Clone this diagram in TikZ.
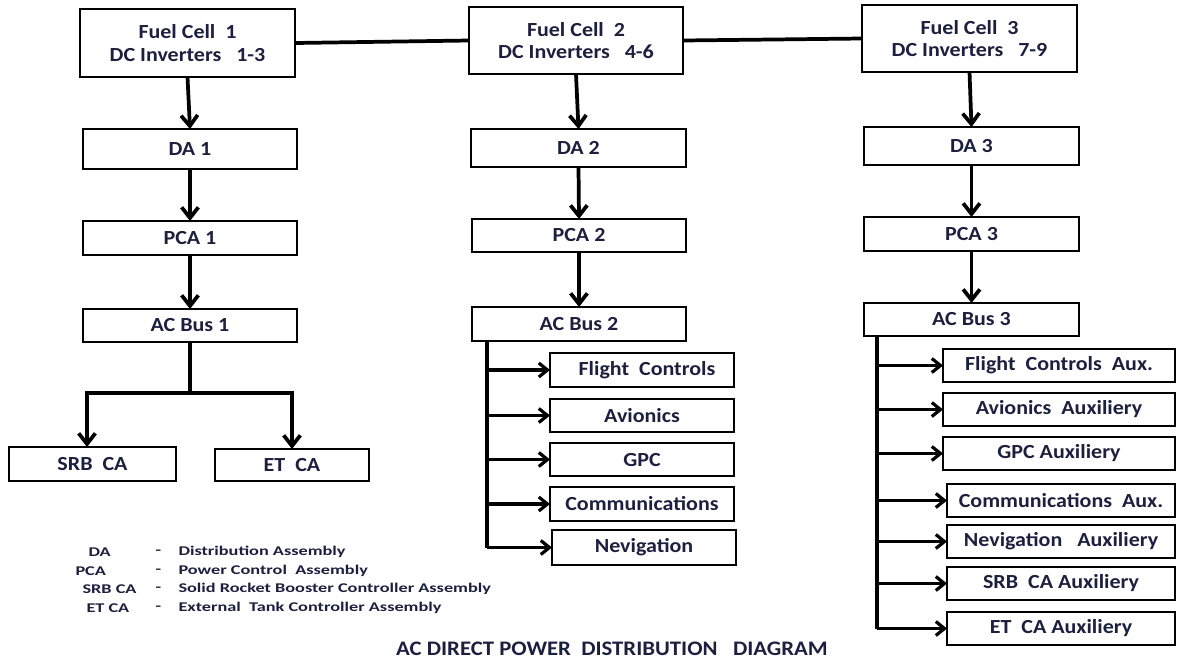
\documentclass[tikz,border=0pt]{standalone}
\usepackage{fontspec}
\setmainfont{Carlito}[FakeStretch=1.1]
\newfontfamily\legendfont{Carlito}[FakeStretch=1.37]
\usetikzlibrary{arrows.meta}
\definecolor{inkblue}{RGB}{28,32,62}

\tikzset{every picture/.style={line width=0.75pt}}
\tikzset{
  blk/.style={draw, line width=1.5pt, inner sep=0pt, outer sep=0pt, align=center,
    text=inkblue, font=\fontsize{15}{17}\selectfont\bfseries},
  sz/.style 2 args={minimum width=#1*0.75pt, minimum height=#2*0.75pt},
  bar/.style={line width=2.8pt},
  feed/.style={line width=2.8pt, -{Straight Barb[length=8pt,width=12.5pt]}},
  tap/.style={line width=2.4pt, -{Straight Barb[length=6.5pt,width=10.5pt]}},
  leg/.style={anchor=west, inner sep=0pt, text=inkblue,
    font=\legendfont\fontsize{10}{11}\selectfont\bfseries},
}

\begin{document}
\begin{tikzpicture}[x=0.75pt,y=0.75pt,yscale=-1,xscale=1]
\useasboundingbox (0,0) rectangle (1177,662);

% Fuel cells
\node[blk,sz={215}{68}] (fc1) at (187.5,43) {Fuel Cell\ \ 1\\DC Inverters\ \ \ 1-3};
\node[blk,sz={214}{67}] (fc2) at (576,40.5) {Fuel Cell\ \ 2\\DC Inverters\ \ \ 4-6};
\node[blk,sz={215}{67}] (fc3) at (969.5,38.5) {Fuel Cell\ \ 3\\DC Inverters\ \ \ 7-9};

% DA
\node[blk,sz={214}{40}] (da1) at (190,149) {DA 1};
\node[blk,sz={215}{38}] (da2) at (578.5,148) {DA 2};
\node[blk,sz={215}{38}] (da3) at (971.5,146) {DA 3};

% PCA
\node[blk,sz={214}{34}] (pca1) at (190,238) {PCA 1};
\node[blk,sz={214}{33}] (pca2) at (579,235.5) {PCA 2};
\node[blk,sz={215}{34}] (pca3) at (971.5,234) {PCA 3};

% AC buses
\node[blk,sz={214}{33}] (ac1) at (190,325.5) {AC Bus 1};
\node[blk,sz={214}{34}] (ac2) at (579,324) {AC Bus 2};
\node[blk,sz={215}{33}] (ac3) at (971.5,319.5) {AC Bus 3};

% Bus 1 loads
\node[blk,sz={167}{34}] (srb1) at (92.5,464) {SRB\ \ CA};
\node[blk,sz={154}{32}] (et1) at (292,465) {ET\ \ CA};

% Bus 2 loads
\node[blk,sz={184}{34}] (fl2) at (642,370) {\ \ Flight\ \ Controls};
\node[blk,sz={184}{33}] (av2) at (642,415.5) {Avionics};
\node[blk,sz={184}{33}] (gpc2) at (642,459.5) {GPC};
\node[blk,sz={184}{34}] (com2) at (642,504) {Communications};
\node[blk,sz={184}{35}] (nav2) at (644,547.5) {Nevigation};

% Bus 3 loads
\node[blk,sz={232}{33}] (fl3) at (1059,365.5) {Flight\ \ Controls\ \ Aux.};
\node[blk,sz={232}{33}] (av3) at (1059,409.5) {Avionics\ \ Auxiliery};
\node[blk,sz={232}{33}] (gpc3) at (1059,453.5) {GPC Auxiliery};
\node[blk,sz={228}{33}] (com3) at (1061,500.5) {Communications\ \ Aux.};
\node[blk,sz={228}{33}] (nav3) at (1061,541.5) {Nevigation\ \ \ Auxiliery};
\node[blk,sz={228}{33}] (srb3) at (1061,583.5) {SRB\ \ CA Auxiliery};
\node[blk,sz={228}{33}] (et3) at (1061,628.5) {ET\ \ CA Auxiliery};

%Straight Lines
\draw[bar] (fc1.east) -- (fc2.west);
\draw[bar] (fc2.east) -- (fc3.west);

\draw[feed] (fc1.south) -- (da1.north);
\draw[feed] (da1.south) -- (pca1.north);
\draw[feed] (pca1.south) -- (ac1.north);
\draw[feed] (fc2.south) -- (da2.north);
\draw[feed] (da2.south) -- (pca2.north);
\draw[feed] (pca2.south) -- (ac2.north);
\draw[feed] (fc3.south) -- (da3.north);
\draw[feed] (da3.south) -- (pca3.north);
\draw[feed] (pca3.south) -- (ac3.north);

%Straight Lines
\coordinate (bl1) at (87,393);
\coordinate (br1) at (292,393);
\draw[bar] (ac1.south) -- (ac1.south |- bl1);
\draw[bar, line cap=rect] (bl1) -- (br1);
\draw[feed] (bl1) -- (bl1 |- srb1.north);
\draw[feed] (br1) -- (br1 |- et1.north);

%Straight Lines
\coordinate (t2) at (487,341);
\draw[bar] (t2) -- (t2 |- nav2.west);
\draw[tap] (t2 |- fl2.west) -- (fl2.west);
\draw[tap] (t2 |- av2.west) -- (av2.west);
\draw[tap] (t2 |- gpc2.west) -- (gpc2.west);
\draw[tap] (t2 |- com2.west) -- (com2.west);
\draw[tap] (t2 |- nav2.west) -- (nav2.west);

%Straight Lines
\coordinate (t3) at (877,336);
\draw[bar] (t3) -- (t3 |- et3.west);
\draw[tap] (t3 |- fl3.west) -- (fl3.west);
\draw[tap] (t3 |- av3.west) -- (av3.west);
\draw[tap] (t3 |- gpc3.west) -- (gpc3.west);
\draw[tap] (t3 |- com3.west) -- (com3.west);
\draw[tap] (t3 |- nav3.west) -- (nav3.west);
\draw[tap] (t3 |- srb3.west) -- (srb3.west);
\draw[tap] (t3 |- et3.west) -- (et3.west);

% Text Node
\node[leg] (kda) at (88,552) {DA};
\node[leg] (kpca) at (75,571) {PCA};
\node[leg] (ksrb) at (82,589) {SRB CA};
\node[leg] (ket) at (86,608) {ET CA};
\node[leg] (dda) at (155,552) {-};
\node[leg] (dpca) at (155,571) {-};
\node[leg] (dsrb) at (155,589) {-};
\node[leg] (det) at (155,608) {-};
\node[leg] (tda) at (178,552) {Distribution Assembly};
\node[leg] (tpca) at (178,571) {Power Control\ \ Assembly};
\node[leg] (tsrb) at (178,589) {Solid Rocket Booster Controller Assembly};
\node[leg] (tet) at (178,608) {External\ \ Tank Controller Assembly};

% Text Node
\node[text=inkblue, font=\fontsize{15.5}{17}\selectfont\bfseries] (title) at (612,649) {AC DIRECT POWER\ \ DISTRIBUTION\ \ \ DIAGRAM};

\end{tikzpicture}
\end{document}
